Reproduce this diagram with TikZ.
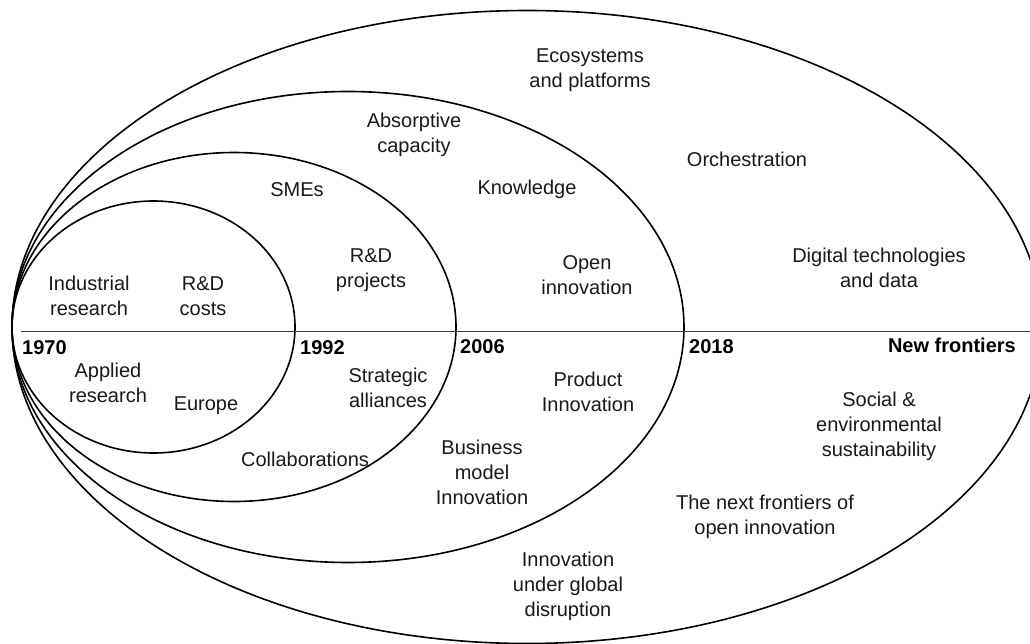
\documentclass[tikz,border=0pt]{standalone}
\usepackage{fontspec}
\setmainfont{Liberation Sans}
\begin{document}
\begin{tikzpicture}[x=1pt,y=-1pt,
  ring/.style={line width=1.6pt, black},
  axisline/.style={line width=1.4pt, black!75},
  lbl/.style={font=\fontsize{20}{25}\selectfont, align=center, inner sep=0pt, text=black!90},
  yr/.style={font=\fontsize{20}{25}\selectfont\bfseries, inner sep=0pt, text=black}]
\useasboundingbox (0,0) rectangle (1030,644);
\clip (0,0) rectangle (1030,644);
\fill[white] (0,0) rectangle (1030,644);
% nested ellipses
\draw[ring] (153.5,327) ellipse [x radius=141.5pt, y radius=126pt];
\draw[ring] (234,327) ellipse [x radius=222pt, y radius=174.5pt];
\draw[ring] (348,327) ellipse [x radius=336pt, y radius=235.5pt];
\draw[ring] (527,327) ellipse [x radius=515pt, y radius=316.5pt];
% time axis
\coordinate (axl) at (21,331.5);
\coordinate (axr) at (1032,331.5);
\draw[axisline] (axl) -- (axr);
% years
\node[yr, anchor=west] (y1970) at (22,348) {1970};
\node[yr, anchor=west] (y1992) at (300,348) {1992};
\node[yr, anchor=west] (y2006) at (460,347) {2006};
\node[yr, anchor=west] (y2018) at (689,347) {2018};
\node[yr, anchor=east] (nf) at (1016,345) {New frontiers};
% labels
\node[lbl] (eco) at (590,70) {Ecosystems\\and platforms};
\node[lbl] (abs) at (414,135) {Absorptive\\capacity};
\node[lbl] (orch) at (747,159) {Orchestration};
\node[lbl] (smes) at (297,190) {SMEs};
\node[lbl] (know) at (527,189) {Knowledge};
\node[lbl] (dig) at (879,268) {Digital technologies\\and data};
\node[lbl] (rdp) at (371,270) {R\&D\\projects};
\node[lbl] (open) at (587,275) {Open\\innovation};
\node[lbl] (ind) at (89,296) {Industrial\\research};
\node[lbl] (rdc) at (203,296) {R\&D\\costs};
\node[lbl] (applied) at (108,383) {Applied\\research};
\node[lbl] (europe) at (206,406) {Europe};
\node[lbl] (strat) at (388,388) {Strategic\\alliances};
\node[lbl] (prod) at (588,392) {Product\\Innovation};
\node[lbl] (social) at (879,426) {Social \&\\environmental\\sustainability};
\node[lbl] (collab) at (305,459) {Collaborations};
\node[lbl] (bus) at (482,472) {Business\\model\\Innovation};
\node[lbl] (next) at (765,517) {The next frontiers of\\open innovation};
\node[lbl] (glob) at (568,586) {Innovation\\under global\\disruption};
\end{tikzpicture}
\end{document}
